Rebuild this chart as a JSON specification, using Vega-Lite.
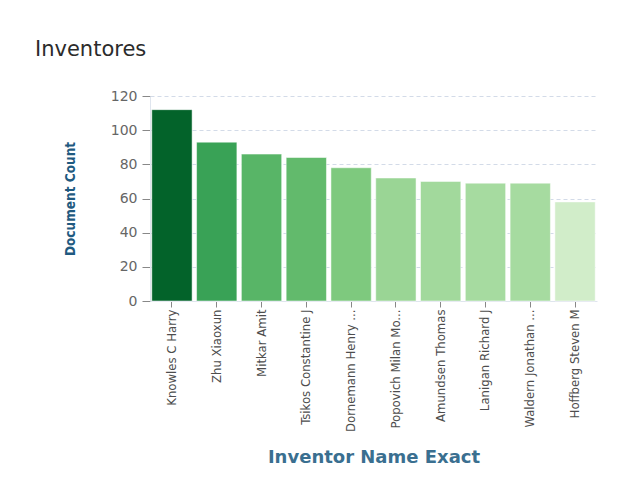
{
  "$schema": "https://vega.github.io/schema/vega-lite/v6.json",
  "width": 447,
  "height": 205,
  "autosize": {"type": "none"},
  "padding": {"left": 150, "top": 96, "right": 35, "bottom": 189},
  "background": "white",
  "title": {
    "text": "Inventores",
    "anchor": "start",
    "frame": "group",
    "dx": -115,
    "offset": 29,
    "font": "DejaVu Sans",
    "fontSize": 21,
    "fontWeight": "normal",
    "color": "#2b2b2b"
  },
  "data": {
    "values": [
      {"inventor": "Knowles C Harry", "count": 112},
      {"inventor": "Zhu Xiaoxun", "count": 93},
      {"inventor": "Mitkar Amit", "count": 86},
      {"inventor": "Tsikos Constantine J", "count": 84},
      {"inventor": "Dornemann Henry ...", "count": 78},
      {"inventor": "Popovich Milan Mo...", "count": 72},
      {"inventor": "Amundsen Thomas", "count": 70},
      {"inventor": "Lanigan Richard J", "count": 69},
      {"inventor": "Waldern Jonathan ...", "count": 69},
      {"inventor": "Hoffberg Steven M", "count": 58}
    ]
  },
  "mark": {"type": "bar", "stroke": "white", "strokeWidth": 1, "strokeOpacity": 0.5},
  "encoding": {
    "x": {
      "field": "inventor",
      "type": "nominal",
      "sort": null,
      "scale": {"paddingInner": 0.1, "paddingOuter": 0.04},
      "axis": {
        "title": "Inventor Name Exact",
        "titleFont": "DejaVu Sans",
        "titleFontSize": 18,
        "titleFontWeight": "bold",
        "titleColor": "#3a6f90",
        "titlePadding": 17,
        "labelAngle": -90,
        "labelAlign": "right",
        "labelBaseline": "middle",
        "labelFont": "DejaVu Sans Condensed, sans-serif",
        "labelFontSize": 13,
        "labelColor": "#4d4d4d",
        "labelPadding": 2,
        "labelLimit": 200,
        "tickSize": 6,
        "tickColor": "#888888",
        "domainColor": "#dfe5ee",
        "grid": false
      }
    },
    "y": {
      "field": "count",
      "type": "quantitative",
      "scale": {"domain": [0, 120]},
      "axis": {
        "title": "Document Count",
        "titleFont": "DejaVu Sans Condensed, sans-serif",
        "titleFontSize": 13.5,
        "titleFontWeight": "bold",
        "titleColor": "#1f5a80",
        "titlePadding": 33,
        "values": [0, 20, 40, 60, 80, 100, 120],
        "labelFont": "DejaVu Sans",
        "labelFontSize": 14,
        "labelColor": "#666666",
        "labelPadding": 5,
        "tickSize": 8,
        "tickColor": "#888888",
        "domainColor": "#dfe5ee",
        "grid": true,
        "gridColor": "#d3dbe8",
        "gridDash": [4, 3]
      }
    },
    "color": {
      "field": "count",
      "type": "quantitative",
      "legend": null,
      "scale": {
        "domain": [58, 60.4, 70.3, 80.2, 90.2, 100.1, 110, 112],
        "range": ["#d1edc9", "#c7e9c0", "#a1d99b", "#74c476", "#41ab5d", "#238b45", "#006d2c", "#03632a"]
      }
    }
  },
  "config": {"view": {"stroke": null}}
}
